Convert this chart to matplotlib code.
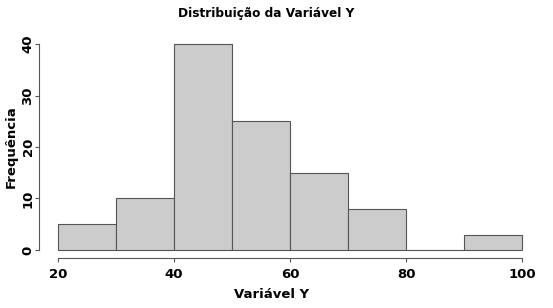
import matplotlib
matplotlib.use("Agg")
import matplotlib.pyplot as plt

breaks = [20, 30, 40, 50, 60, 70, 80, 90, 100]
counts = [5, 10, 40, 25, 15, 8, 0, 3]
xticks = [20, 40, 60, 80, 100]
yticks = [0, 10, 20, 30, 40]

plt.rcParams['font.family'] = ['DejaVu Sans']
fig = plt.figure(figsize=(5.53, 3.08), dpi=100)
W, H = 553, 308
x0, x1 = 39.4, 540.6
y0, y1 = 258.2, 35.8
ax = fig.add_axes([x0 / W, 1 - y0 / H, (x1 - x0) / W, (y0 - y1) / H])

lefts = breaks[:-1]
widths = [b - a for a, b in zip(breaks[:-1], breaks[1:])]
ax.bar(lefts, counts, width=widths, align='edge', color='#cccccc',
       edgecolor='#555555', linewidth=0.8)

ax.set_xlim(16.8, 103.2)
ax.set_ylim(-1.6, 41.6)
for s in ['top', 'right']:
    ax.spines[s].set_visible(False)
ax.spines['left'].set_bounds(0, 40)
ax.spines['bottom'].set_bounds(20, 100)
for s in ['left', 'bottom']:
    ax.spines[s].set_color('#555555')
    ax.spines[s].set_linewidth(0.8)
ax.set_xticks(xticks)
ax.set_yticks(yticks)
ax.set_xticklabels([str(v) for v in xticks], fontsize=9.5, fontweight='bold')
ax.set_yticklabels([str(v) for v in yticks], fontsize=9.5, fontweight='bold',
                   rotation=90, va='center')
ax.tick_params(axis='both', length=3, width=0.8, color='#555555', direction='out')
ax.tick_params(axis='x', pad=4)
ax.tick_params(axis='y', pad=0.5)

fig.text(266 / W, 1 - 14 / H, 'Distribuição da Variável Y', ha='center', va='center',
         fontsize=8.7, fontweight='bold')
fig.text(272 / W, 1 - 295 / H, 'Variável Y', ha='center', va='center',
         fontsize=9.5, fontweight='bold')
fig.text(11 / W, 1 - 147 / H, 'Frequência', ha='center', va='center', rotation=90,
         fontsize=9.5, fontweight='bold')

fig.savefig('out.png', dpi=100)
